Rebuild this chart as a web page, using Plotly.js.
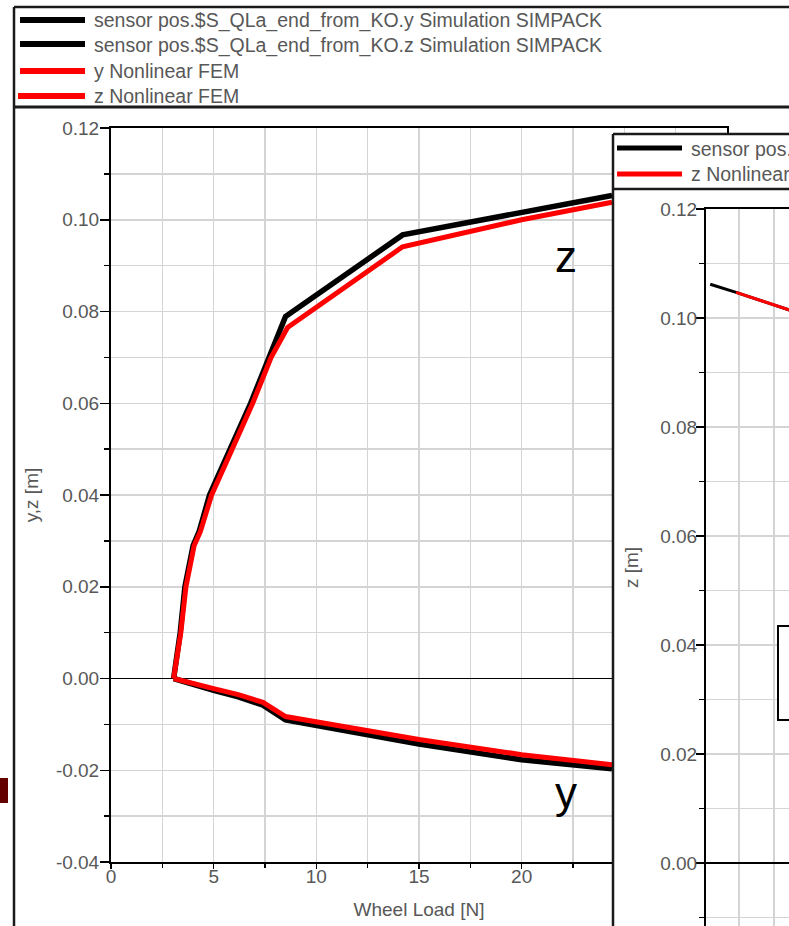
<!DOCTYPE html>
<html>
<head>
<meta charset="utf-8">
<script src="https://cdn.plot.ly/plotly-3.0.1.min.js"></script>
<style>
  html, body { margin: 0; padding: 0; background: #fff; }
  #chart { width: 789px; height: 926px; }
</style>
</head>
<body>
<div id="chart"></div>
<script>
// ---------------- data ----------------
const legendNames = [
  'sensor pos.$S_QLa_end_from_KO.y Simulation SIMPACK',
  'sensor pos.$S_QLa_end_from_KO.z Simulation SIMPACK',
  'y Nonlinear FEM',
  'z Nonlinear FEM'
];
const insetLegendNames = [
  'sensor pos.$S_QLa_end_from_KO.z Simulation SIMPACK',
  'z Nonlinear FEM'
];

// main chart: wheel load [N] vs displacement [m]
const loadYSim = [3.05, 4.0, 5.0, 6.2, 7.4, 8.5, 15.0, 20.0, 24.4];
const ySim     = [0.0, -0.0014, -0.0026, -0.0040, -0.0058, -0.0090, -0.0143, -0.0177, -0.0197];

const loadZSim = [3.05, 3.37, 3.6, 4.0, 4.29, 4.8, 5.8, 6.8, 7.7, 8.5, 14.2, 20.0, 24.4];
const zSim     = [0.0, 0.010, 0.020, 0.029, 0.032, 0.040, 0.050, 0.060, 0.070, 0.0789, 0.0967, 0.1017, 0.1053];

const loadYFem = [3.05, 4.0, 5.0, 6.2, 7.4, 8.5, 15.0, 20.0, 24.4];
const yFem     = [0.0, -0.0012, -0.0022, -0.0035, -0.0052, -0.0083, -0.0133, -0.0166, -0.0188];

const loadZFem = [3.05, 3.4, 3.65, 4.05, 4.35, 4.9, 5.9, 6.9, 7.8, 8.6, 14.2, 20.0, 24.4];
const zFem     = [0.0, 0.010, 0.020, 0.029, 0.032, 0.040, 0.050, 0.060, 0.070, 0.0765, 0.0941, 0.1000, 0.1038];

// inset chart (z only)
const insetXSim = [0.45, 2.3, 6.3];
const insetZSim = [0.1062, 0.1047, 0.1013];
const insetXFem = [2.3, 6.3];
const insetZFem = [0.1047, 0.1013];

// tick labels
const mainYTickVals = [-0.04, -0.02, 0.00, 0.02, 0.04, 0.06, 0.08, 0.10, 0.12];
const mainYTickText = ['-0.04', '-0.02', '0.00', '0.02', '0.04', '0.06', '0.08', '0.10', '0.12'];
const insetYTickVals = [0.00, 0.02, 0.04, 0.06, 0.08, 0.10, 0.12];
const insetYTickText = ['0.00', '0.02', '0.04', '0.06', '0.08', '0.10', '0.12'];

// ---------------- layout helpers ----------------
const W = 789, H = 926;
const px = x => x / W;
const py = y => 1 - y / H;
const FONT = 'Liberation Sans, Arial, Helvetica, sans-serif';
const GRAY = '#585858';
const GRID = '#d4d4d4';

const traces = [
  { x: loadYSim, y: ySim, name: legendNames[0], xaxis: 'x', yaxis: 'y',
    mode: 'lines', line: { color: '#000000', width: 5.5 }, showlegend: false, hoverinfo: 'skip' },
  { x: loadZSim, y: zSim, name: legendNames[1], xaxis: 'x', yaxis: 'y',
    mode: 'lines', line: { color: '#000000', width: 5.5 }, showlegend: false, hoverinfo: 'skip' },
  { x: loadYFem, y: yFem, name: legendNames[2], xaxis: 'x', yaxis: 'y',
    mode: 'lines', line: { color: '#ff0000', width: 5 }, showlegend: false, hoverinfo: 'skip' },
  { x: loadZFem, y: zFem, name: legendNames[3], xaxis: 'x', yaxis: 'y',
    mode: 'lines', line: { color: '#ff0000', width: 5 }, showlegend: false, hoverinfo: 'skip' },
  // empty placeholder so that the blank panel subplot exists (it hides the right part of the main chart)
  { x: [null], y: [null], name: 'panel', xaxis: 'x2', yaxis: 'y2',
    mode: 'lines', showlegend: false, hoverinfo: 'skip' },
  { x: insetXSim, y: insetZSim, name: insetLegendNames[0], xaxis: 'x3', yaxis: 'y3',
    mode: 'lines', line: { color: '#000000', width: 3 }, showlegend: false, hoverinfo: 'skip' },
  { x: insetXFem, y: insetZFem, name: insetLegendNames[1], xaxis: 'x3', yaxis: 'y3',
    mode: 'lines', line: { color: '#ff0000', width: 3 }, showlegend: false, hoverinfo: 'skip' }
];

const tickFont = { family: FONT, size: 19, color: GRAY };

const layout = {
  width: W, height: H, autosize: false,
  margin: { l: 0, r: 0, t: 0, b: 0, pad: 0 },
  paper_bgcolor: '#ffffff',
  plot_bgcolor: '#ffffff',
  showlegend: false,
  font: { family: FONT, size: 19, color: GRAY },

  // main chart
  xaxis: {
    domain: [px(111), px(727)], anchor: 'y', range: [0, 30],
    tickmode: 'linear', tick0: 0, dtick: 5,
    ticks: 'outside', ticklen: 5, tickwidth: 1.5, tickcolor: '#000',
    ticklabelstandoff: -9,
    showline: true, linecolor: '#000', linewidth: 2, mirror: true,
    showgrid: true, gridcolor: GRID, gridwidth: 1.5, zeroline: false,
    minor: { tickmode: 'linear', tick0: 0, dtick: 2.5, ticks: 'outside', ticklen: 4, tickwidth: 1.5,
             tickcolor: '#000', showgrid: true, gridcolor: GRID, gridwidth: 1.5 },
    tickfont: tickFont,
    title: { text: 'Wheel Load [N]', font: { family: FONT, size: 19, color: GRAY }, standoff: 17 }
  },
  yaxis: {
    domain: [py(862), py(128)], anchor: 'x', range: [-0.04, 0.12],
    tickmode: 'array', tickvals: mainYTickVals, ticktext: mainYTickText,
    ticks: 'outside', ticklen: 9, tickwidth: 1.5, tickcolor: '#000',
    ticklabelstandoff: -3,
    showline: true, linecolor: '#000', linewidth: 2, mirror: true,
    showgrid: true, gridcolor: GRID, gridwidth: 1.5,
    zeroline: true, zerolinecolor: '#000', zerolinewidth: 1.8,
    minor: { tickmode: 'linear', tick0: 0, dtick: 0.01, ticks: 'outside', ticklen: 5, tickwidth: 1.5,
             tickcolor: '#000', showgrid: true, gridcolor: GRID, gridwidth: 1.5 },
    tickfont: tickFont,
    title: { text: 'y,z [m]', font: { family: FONT, size: 19, color: GRAY }, standoff: 12 }
  },

  // blank panel that hides the right part of the main chart
  xaxis2: {
    domain: [px(613), 1], anchor: 'y2', range: [0, 1],
    showgrid: false, zeroline: false, showline: false, showticklabels: false, ticks: ''
  },
  yaxis2: {
    domain: [0, py(134)], anchor: 'x2', range: [0, 1],
    showgrid: false, zeroline: false, showline: false, showticklabels: false, ticks: ''
  },

  // inset chart
  xaxis3: {
    domain: [px(706), 1], anchor: 'y3', range: [0.15, 6.08],
    tickmode: 'linear', tick0: 0, dtick: 2.5,
    showgrid: true, gridcolor: GRID, gridwidth: 1.5, zeroline: false,
    showline: true, linecolor: '#000', linewidth: 2, mirror: true,
    showticklabels: false, ticks: ''
  },
  yaxis3: {
    domain: [0, py(209)], anchor: 'x3', range: [-0.01156, 0.12],
    tickmode: 'array', tickvals: insetYTickVals, ticktext: insetYTickText,
    ticks: 'outside', ticklen: 8, tickwidth: 1.5, tickcolor: '#000',
    ticklabelstandoff: -5,
    showline: true, linecolor: '#000', linewidth: 2, mirror: true,
    showgrid: true, gridcolor: GRID, gridwidth: 1.5,
    zeroline: true, zerolinecolor: '#000', zerolinewidth: 1.8,
    minor: { tickmode: 'linear', tick0: 0, dtick: 0.01, ticks: 'outside', ticklen: 5, tickwidth: 1.5,
             tickcolor: '#000', showgrid: true, gridcolor: GRID, gridwidth: 1.5 },
    tickfont: tickFont,
    title: { text: 'z [m]', font: { family: FONT, size: 19, color: GRAY }, standoff: 17 }
  },

  shapes: [
    // main legend frame
    { type: 'line', xref: 'paper', yref: 'paper', x0: px(14), x1: 1, y0: py(7), y1: py(7),
      line: { color: '#1a1a1a', width: 2.5 }, layer: 'above' },
    { type: 'line', xref: 'paper', yref: 'paper', x0: px(14), x1: 1, y0: py(107), y1: py(107),
      line: { color: '#1a1a1a', width: 3 }, layer: 'above' },
    { type: 'line', xref: 'paper', yref: 'paper', x0: px(14), x1: px(14), y0: py(7), y1: 0,
      line: { color: '#1a1a1a', width: 2.5 }, layer: 'above' },
    // main legend samples
    { type: 'line', xref: 'paper', yref: 'paper', x0: px(20), x1: px(85), y0: py(20), y1: py(20),
      line: { color: '#000000', width: 6 }, layer: 'above' },
    { type: 'line', xref: 'paper', yref: 'paper', x0: px(20), x1: px(85), y0: py(44), y1: py(44),
      line: { color: '#000000', width: 6 }, layer: 'above' },
    { type: 'line', xref: 'paper', yref: 'paper', x0: px(20), x1: px(85), y0: py(71), y1: py(71),
      line: { color: '#ff0000', width: 6 }, layer: 'above' },
    { type: 'line', xref: 'paper', yref: 'paper', x0: px(18), x1: px(85), y0: py(96), y1: py(96),
      line: { color: '#ff0000', width: 6 }, layer: 'above' },
    // small dark red block at the left edge
    { type: 'rect', xref: 'paper', yref: 'paper', x0: 0, x1: px(8), y0: py(803), y1: py(778),
      fillcolor: '#650000', line: { width: 0 }, layer: 'above' },
    // inset panel frame
    { type: 'line', xref: 'paper', yref: 'paper', x0: px(613), x1: px(613), y0: py(134), y1: 0,
      line: { color: '#1a1a1a', width: 2.5 }, layer: 'above' },
    { type: 'line', xref: 'paper', yref: 'paper', x0: px(613), x1: 1, y0: py(134), y1: py(134),
      line: { color: '#1a1a1a', width: 2.5 }, layer: 'above' },
    { type: 'line', xref: 'paper', yref: 'paper', x0: px(613), x1: 1, y0: py(189), y1: py(189),
      line: { color: '#1a1a1a', width: 2.5 }, layer: 'above' },
    // inset legend samples
    { type: 'line', xref: 'paper', yref: 'paper', x0: px(617), x1: px(682), y0: py(148), y1: py(148),
      line: { color: '#000000', width: 5 }, layer: 'above' },
    { type: 'line', xref: 'paper', yref: 'paper', x0: px(617), x1: px(682), y0: py(174), y1: py(174),
      line: { color: '#ff0000', width: 5 }, layer: 'above' },
    // box inside inset
    { type: 'rect', xref: 'paper', yref: 'paper', x0: px(778), x1: px(800), y0: py(720), y1: py(626),
      fillcolor: '#ffffff', line: { color: '#000', width: 2 }, layer: 'above' }
  ],

  annotations: [
    { xref: 'paper', yref: 'paper', x: px(92), y: py(20), xanchor: 'left', yanchor: 'middle',
      text: legendNames[0], showarrow: false, font: { family: FONT, size: 19.5, color: GRAY } },
    { xref: 'paper', yref: 'paper', x: px(92), y: py(45), xanchor: 'left', yanchor: 'middle',
      text: legendNames[1], showarrow: false, font: { family: FONT, size: 19.5, color: GRAY } },
    { xref: 'paper', yref: 'paper', x: px(92), y: py(71), xanchor: 'left', yanchor: 'middle',
      text: legendNames[2], showarrow: false, font: { family: FONT, size: 19.5, color: GRAY } },
    { xref: 'paper', yref: 'paper', x: px(92), y: py(96), xanchor: 'left', yanchor: 'middle',
      text: legendNames[3], showarrow: false, font: { family: FONT, size: 19.5, color: GRAY } },
    { xref: 'paper', yref: 'paper', x: px(689), y: py(149), xanchor: 'left', yanchor: 'middle',
      text: insetLegendNames[0], showarrow: false, font: { family: FONT, size: 19.5, color: GRAY } },
    { xref: 'paper', yref: 'paper', x: px(689), y: py(174), xanchor: 'left', yanchor: 'middle',
      text: insetLegendNames[1], showarrow: false, font: { family: FONT, size: 19.5, color: GRAY } },
    { xref: 'paper', yref: 'paper', x: px(566), y: py(256), xanchor: 'center', yanchor: 'middle',
      text: 'z', showarrow: false, font: { family: FONT, size: 44, color: '#000' } },
    { xref: 'paper', yref: 'paper', x: px(566), y: py(792), xanchor: 'center', yanchor: 'middle',
      text: 'y', showarrow: false, font: { family: FONT, size: 44, color: '#000' } }
  ]
};

Plotly.newPlot('chart', traces, layout, { staticPlot: true, displayModeBar: false });
</script>
</body>
</html>
